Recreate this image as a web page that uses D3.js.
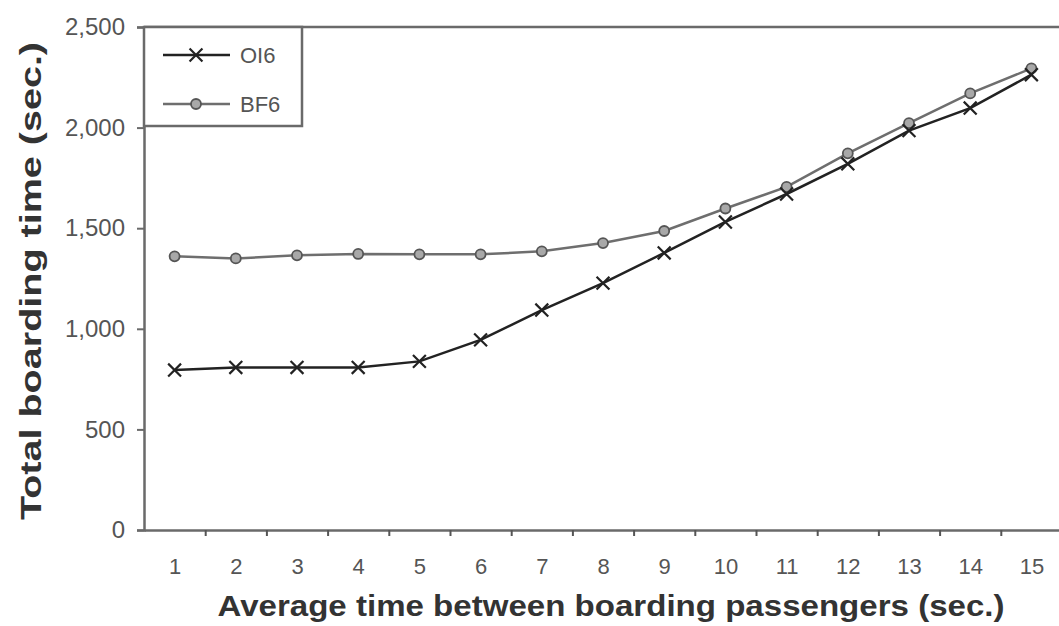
<!DOCTYPE html>
<html>
<head>
<meta charset="utf-8">
<script src="https://cdn.jsdelivr.net/npm/d3@7"></script>
<style>
  body { margin: 0; background: #fff; }
  svg { display: block; }
  text { font-family: "Liberation Sans", Arial, sans-serif; }
</style>
</head>
<body>
<div id="chart"></div>
<script>
var categories = [1, 2, 3, 4, 5, 6, 7, 8, 9, 10, 11, 12, 13, 14, 15];
var oi6 = [795, 808, 808, 808, 838, 945, 1093, 1227, 1377, 1531, 1670, 1820, 1985, 2097, 2263];
var bf6 = [1360, 1350, 1365, 1372, 1370, 1370, 1385, 1426, 1486, 1598, 1705, 1872, 2022, 2170, 2294];
var yTicks = [0, 500, 1000, 1500, 2000, 2500];
var seriesNames = ['OI6', 'BF6'];

var width = 1059, height = 626;
var plotLeft = 144, plotRight = 1062, plotTop = 27, plotBottom = 530;

var svg = d3.select('#chart').append('svg')
    .attr('width', width)
    .attr('height', height);

var x = d3.scaleLinear().domain([0.5, 15.5]).range([plotLeft, plotRight]);
var y = d3.scaleLinear().domain([0, 2500]).range([plotBottom, plotTop]);

// plot border (top + right)
svg.append('path')
    .attr('d', 'M' + plotLeft + ',' + plotTop + 'H' + plotRight + 'V' + plotBottom)
    .attr('fill', 'none')
    .attr('stroke', '#6a6a6a')
    .attr('stroke-width', 2.5);

// y axis
var yAxis = svg.append('g')
    .attr('transform', 'translate(' + plotLeft + ',0)')
    .call(d3.axisLeft(y).tickValues(yTicks).tickFormat(d3.format(',')).tickSize(7).tickPadding(12));
yAxis.select('.domain').attr('stroke', '#6a6a6a').attr('stroke-width', 2.5);
yAxis.selectAll('.tick line').attr('stroke', '#6a6a6a').attr('stroke-width', 2);
yAxis.selectAll('.tick text')
    .attr('fill', '#555')
    .style('font-size', '24px');

// x axis: ticks between categories
var xTicks = svg.append('g')
    .attr('transform', 'translate(0,' + plotBottom + ')')
    .call(d3.axisBottom(x).tickValues(categories.slice(1).map(function(d) { return d - 0.5; }))
        .tickFormat('').tickSize(6).tickSizeOuter(0));
xTicks.select('.domain').attr('stroke', '#6a6a6a').attr('stroke-width', 2.5);
xTicks.selectAll('.tick line').attr('stroke', '#555').attr('stroke-width', 2);

// x labels at category centers
var xLabels = svg.append('g')
    .attr('transform', 'translate(0,' + plotBottom + ')')
    .call(d3.axisBottom(x).tickValues(categories).tickSize(0).tickPadding(28));
xLabels.select('.domain').remove();
xLabels.selectAll('.tick text')
    .attr('fill', '#555')
    .style('font-size', '22px');

// axis titles
svg.append('text')
    .attr('x', 611)
    .attr('y', 616)
    .attr('text-anchor', 'middle')
    .attr('textLength', 787)
    .attr('lengthAdjust', 'spacingAndGlyphs')
    .attr('fill', '#333')
    .style('font-size', '29px')
    .style('font-weight', 'bold')
    .text('Average time between boarding passengers (sec.)');

svg.append('text')
    .attr('transform', 'translate(41,281) rotate(-90)')
    .attr('text-anchor', 'middle')
    .attr('textLength', 478)
    .attr('lengthAdjust', 'spacingAndGlyphs')
    .attr('fill', '#333')
    .style('font-size', '29px')
    .style('font-weight', 'bold')
    .text('Total boarding time (sec.)');

var line = d3.line()
    .x(function(d, i) { return x(categories[i]); })
    .y(function(d) { return y(d); });

// BF6 series
svg.append('path')
    .datum(bf6)
    .attr('d', line)
    .attr('fill', 'none')
    .attr('stroke', '#6e6e6e')
    .attr('stroke-width', 2.5);

svg.selectAll('.bf6-pt')
    .data(bf6)
    .enter().append('circle')
    .attr('class', 'bf6-pt')
    .attr('cx', function(d, i) { return x(categories[i]); })
    .attr('cy', function(d) { return y(d); })
    .attr('r', 5)
    .attr('fill', '#a8a8a8')
    .attr('stroke', '#555')
    .attr('stroke-width', 1.8);

// OI6 series
svg.append('path')
    .datum(oi6)
    .attr('d', line)
    .attr('fill', 'none')
    .attr('stroke', '#222')
    .attr('stroke-width', 2.5);

var cross = d3.symbol().type(d3.symbolTimes).size(110);
svg.selectAll('.oi6-pt')
    .data(oi6)
    .enter().append('path')
    .attr('class', 'oi6-pt')
    .attr('d', cross)
    .attr('transform', function(d, i) { return 'translate(' + x(categories[i]) + ',' + y(d) + ')'; })
    .attr('fill', 'none')
    .attr('stroke', '#222')
    .attr('stroke-width', 2.2);

// legend
var legend = svg.append('g');
legend.append('rect')
    .attr('x', plotLeft)
    .attr('y', plotTop)
    .attr('width', 158)
    .attr('height', 99)
    .attr('fill', '#fff')
    .attr('stroke', '#6a6a6a')
    .attr('stroke-width', 2.5);

var legendY = [55, 104];
seriesNames.forEach(function(name, i) {
    var ly = legendY[i];
    legend.append('line')
        .attr('x1', 163).attr('x2', 230)
        .attr('y1', ly).attr('y2', ly)
        .attr('stroke', i === 0 ? '#222' : '#6e6e6e')
        .attr('stroke-width', 2.5);
    if (i === 0) {
        legend.append('path')
            .attr('d', cross)
            .attr('transform', 'translate(196,' + ly + ')')
            .attr('fill', 'none')
            .attr('stroke', '#222')
            .attr('stroke-width', 2.2);
    } else {
        legend.append('circle')
            .attr('cx', 196).attr('cy', ly).attr('r', 5)
            .attr('fill', '#a8a8a8')
            .attr('stroke', '#555')
            .attr('stroke-width', 1.8);
    }
    legend.append('text')
        .attr('x', 240)
        .attr('y', ly)
        .attr('dy', '0.35em')
        .attr('fill', '#555')
        .style('font-size', '22px')
        .text(name);
});
</script>
</body>
</html>
